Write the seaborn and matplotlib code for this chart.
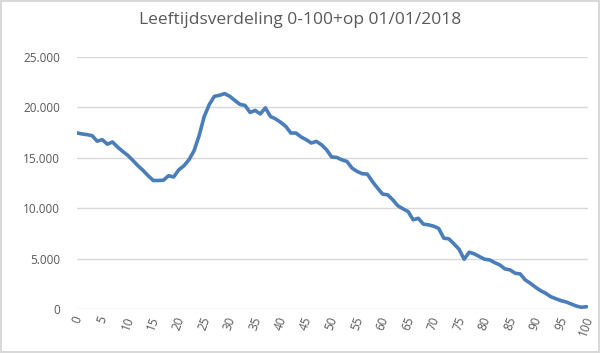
import numpy as np
import pandas as pd
import matplotlib
matplotlib.use("Agg")
import matplotlib.pyplot as plt
import seaborn as sns

# age 0..100, number of people
ages = list(range(0, 101))
people = [
    17470, 17370, 17300, 17200, 16650, 16800, 16350, 16570, 16070, 15640,
    15240, 14740, 14210, 13750, 13220, 12750, 12750, 12780, 13220, 13100,
    13800, 14200, 14800, 15700, 17200, 19100, 20300, 21100, 21200, 21370,
    21100, 20700, 20300, 20200, 19500, 19700, 19350, 19950, 19100, 18860,
    18520, 18120, 17460, 17460, 17070, 16800, 16470, 16630, 16300, 15800,
    15080, 15040, 14800, 14640, 13980, 13650, 13420, 13390, 12650, 12000,
    11400, 11330, 10830, 10240, 9940, 9670, 8850, 9000, 8420, 8350,
    8220, 8000, 7030, 6960, 6460, 5930, 4940, 5640, 5470, 5200,
    4940, 4870, 4600, 4370, 3980, 3880, 3550, 3480, 2880, 2550,
    2160, 1820, 1560, 1220, 1020, 830, 700, 500, 300, 170,
    230,
]
x_ticks = list(range(0, 101, 5))
y_ticks = [0, 5000, 10000, 15000, 20000, 25000]
y_labels = ["0", "5.000", "10.000", "15.000", "20.000", "25.000"]

df = pd.DataFrame({"leeftijd": ages, "aantal": people})

sns.set_theme(style="white")
plt.rcParams["font.family"] = ["Open Sans", "DejaVu Sans"]

fig = plt.figure(figsize=(6, 3.53), dpi=100)
fig.patch.set_edgecolor("#D9D9D9")
fig.patch.set_linewidth(1.5)
ax = fig.add_axes([0.128, 0.1246, 0.852, 0.7139])

sns.lineplot(data=df, x="leeftijd", y="aantal", color="#4A7EBB", linewidth=2.6, ax=ax)

ax.set_xlim(0, 100.3)
ax.set_ylim(0, 25000)
ax.set_yticks(y_ticks)
ax.set_yticklabels(y_labels)
ax.set_xticks(x_ticks)
ax.set_xticklabels([str(t) for t in x_ticks], rotation=70)
ax.tick_params(axis="both", length=0, labelsize=8.5, labelcolor="#595959")
ax.tick_params(axis="y", pad=12)
ax.tick_params(axis="x", pad=4)
ax.grid(axis="y", color="#D9D9D9", linewidth=1)
ax.set_axisbelow(True)
for s in ["top", "right", "left", "bottom"]:
    ax.spines[s].set_visible(False)
ax.set_xlabel("")
ax.set_ylabel("")

fig.suptitle("Leeftijdsverdeling 0-100+op 01/01/2018", y=0.965, fontsize=12.5, color="#595959")

fig.savefig("out.png", dpi=100)
